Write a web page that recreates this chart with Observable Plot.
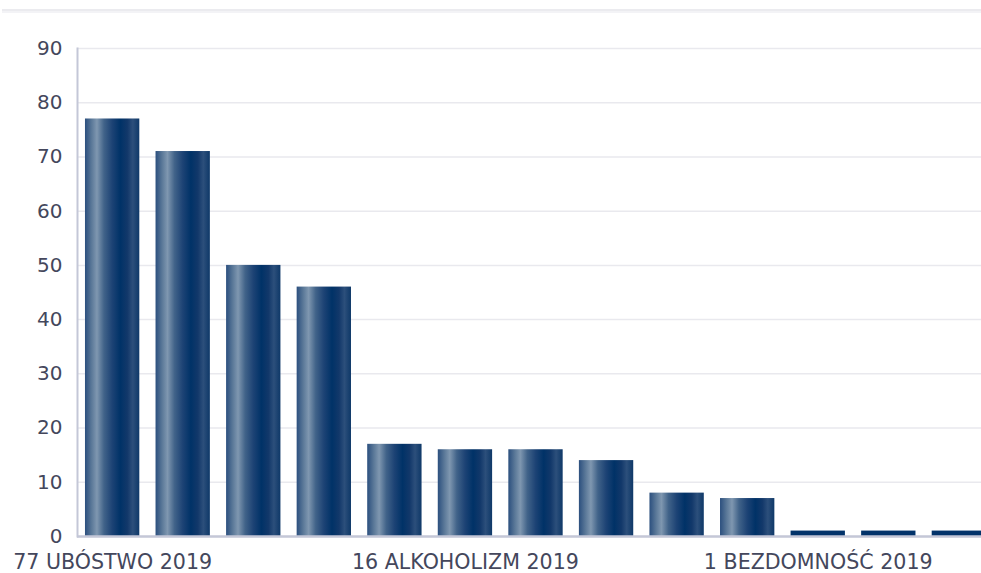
<!DOCTYPE html>
<html>
<head>
<meta charset="utf-8">
<script src="https://cdn.jsdelivr.net/npm/d3@7"></script>
<script src="https://cdn.jsdelivr.net/npm/@observablehq/plot@0.6"></script>
<style>
  html, body { margin: 0; padding: 0; background: #fff; overflow: hidden; width: 981px; height: 573px; }
  #wrap { position: relative; width: 981px; height: 573px; overflow: hidden; }
  #topline { position: absolute; left: 2px; right: 0; top: 9px; height: 2px; background: #ebebef; border-bottom: 2px solid #f3f3f6; }
  #chart { position: absolute; left: 0; top: 0; width: 994px; }
  #chart svg { max-width: none !important; }
</style>
</head>
<body>
<div id="wrap">
  <div id="topline"></div>
  <div id="chart"></div>
</div>
<script>
const categories = ["Ubóstwo", "Bezrobocie", "Niepełnosprawność", "Długotrwała choroba", "Bezradność opiekuńczo-wychowawcza", "Alkoholizm", "Potrzeba ochrony macierzyństwa", "Wielodzietność", "Przemoc w rodzinie", "Trudności po opuszczeniu zakładu karnego", "Bezdomność", "Narkomania", "Zdarzenie losowe"];
const values = [77, 71, 50, 46, 17, 16, 16, 14, 8, 7, 1, 1, 1];
const year = "2019";
const shownTicks = ["Ubóstwo", "Alkoholizm", "Bezdomność"];
const yTicks = [0, 10, 20, 30, 40, 50, 60, 70, 80, 90];

const data = categories.map((c, i) => ({category: c, value: values[i]}));
const labelOf = Object.fromEntries(data.map(d => [d.category, `${d.value} ${d.category.toUpperCase()} ${year}`]));

const textColor = "#44475c";
const font = "'DejaVu Sans', sans-serif";

const plot = Plot.plot({
  width: 994,
  height: 573,
  marginTop: 48,
  marginBottom: 37,
  marginLeft: 77,
  marginRight: 0,
  style: {fontFamily: font, fontSize: "20px", color: textColor, background: "transparent", overflow: "visible", maxWidth: "none"},
  x: {domain: categories, paddingInner: 0.23, paddingOuter: 0.113, round: false, label: null},
  y: {domain: [0, 90], label: null},
  color: {type: "identity"},
  marks: [
    Plot.gridY(yTicks, {stroke: "#e9e9ee", strokeOpacity: 1, strokeWidth: 1.5}),
    Plot.barY(data, {x: "category", y: "value", fill: d => d.value <= 1 ? "#02336a" : "url(#barGrad)"}),
    Plot.frame({anchor: "left", stroke: "#c4c7d7", strokeWidth: 2}),
    Plot.ruleY([0], {stroke: "#c4c7d7", strokeWidth: 2.5}),
    Plot.axisY({ticks: yTicks, tickSize: 0, tickPadding: 15, label: null, fontSize: 20, fill: textColor}),
    Plot.axisX({ticks: shownTicks, tickSize: 0, tickPadding: 18, label: null, tickFormat: d => labelOf[d], fontSize: 20.6, fill: textColor})
  ]
});

// gradient definition
const ns = "http://www.w3.org/2000/svg";
const defs = document.createElementNS(ns, "defs");
const grad = document.createElementNS(ns, "linearGradient");
grad.setAttribute("id", "barGrad");
grad.setAttribute("x1", "0"); grad.setAttribute("y1", "0");
grad.setAttribute("x2", "1"); grad.setAttribute("y2", "0");
const stops = [
  [0, "#2b4f7e"], [0.12, "#5a7898"], [0.22, "#7f97b0"], [0.35, "#416389"],
  [0.5, "#1d4375"], [0.65, "#003267"], [0.78, "#12386a"], [0.88, "#2c4f7b"], [1, "#0e3868"]
];
for (const [o, c] of stops) {
  const s = document.createElementNS(ns, "stop");
  s.setAttribute("offset", o);
  s.setAttribute("stop-color", c);
  grad.appendChild(s);
}
defs.appendChild(grad);
plot.insertBefore(defs, plot.firstChild);

document.getElementById("chart").appendChild(plot);
</script>
</body>
</html>
